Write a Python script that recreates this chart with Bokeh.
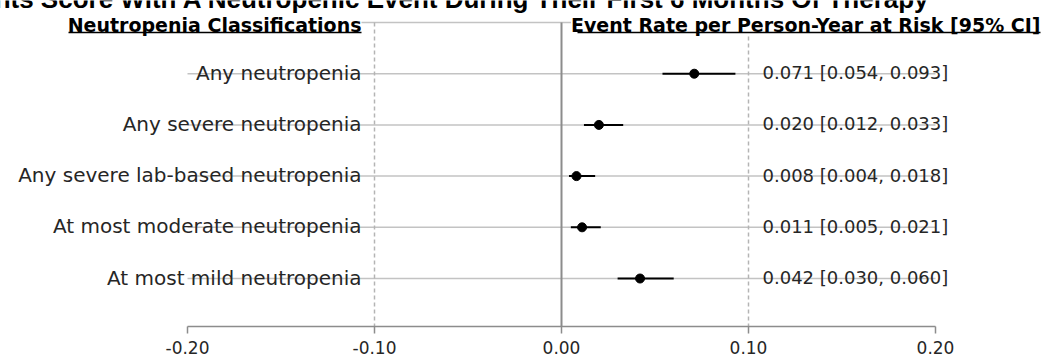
from bokeh.plotting import figure
from bokeh.models import Range1d, FixedTicker, NumeralTickFormatter
from bokeh.core.properties import value
from bokeh.embed import file_html
from bokeh.resources import INLINE

# ---- data ----
categories = [
    "Any neutropenia",
    "Any severe neutropenia",
    "Any severe lab-based neutropenia",
    "At most moderate neutropenia",
    "At most mild neutropenia",
]
estimates = [0.071, 0.020, 0.008, 0.011, 0.042]
lower = [0.054, 0.012, 0.004, 0.005, 0.030]
upper = [0.093, 0.033, 0.018, 0.021, 0.060]
tick_values = [-0.20, -0.10, 0.00, 0.10, 0.20]
header_left = "Neutropenia Classifications"
header_right = "Event Rate per Person-Year at Risk [95% CI]"
title_text = "Event Rates For Patients Score With A Neutropenic Event During Their First 6 Months Of Therapy"

# ---- layout helpers (pixel -> data) ----
W, FH = 1044, 326
X_LEFT, PXU = -0.30, 1870.0
Y_TOP, ROWPX = -0.43, 51.2
X_RIGHT = X_LEFT + W / PXU
Y_BOTTOM = Y_TOP + FH / ROWPX


def px2x(px):
    return X_LEFT + px / PXU


def px2y(py):
    return Y_TOP + py / ROWPX


rows = list(range(1, len(categories) + 1))
all_rows = [0] + rows
right_texts = [f"{e:.3f} [{l:.3f}, {u:.3f}]" for e, l, u in zip(estimates, lower, upper)]

FONT = "DejaVu Sans"

p = figure(
    title=None,
    frame_width=W, frame_height=FH,
    x_range=Range1d(X_LEFT, X_RIGHT), y_range=Range1d(Y_BOTTOM, Y_TOP),
    output_backend="svg", toolbar_location=None, min_border=0,
    y_axis_location=None, outline_line_color=None,
)
p.grid.visible = False

# row lines
p.segment(x0=[tick_values[0]] * len(all_rows), x1=[tick_values[-1]] * len(all_rows),
          y0=all_rows, y1=all_rows, line_color="#c3c3c3", line_width=1.5)

# vertical reference lines
p.segment(x0=[tick_values[1], tick_values[3]], x1=[tick_values[1], tick_values[3]],
          y0=[0, 0], y1=[Y_BOTTOM, Y_BOTTOM], line_color="#b4b4b4", line_width=1.5,
          line_dash="4 3")
p.segment(x0=[tick_values[2]], x1=[tick_values[2]], y0=[0], y1=[Y_BOTTOM],
          line_color="#8c8c8c", line_width=2)

# CIs and points
p.segment(x0=lower, x1=upper, y0=rows, y1=rows, line_color="black", line_width=2)
p.scatter(x=estimates, y=rows, size=9, color="black")

# labels
p.text(x=[px2x(361)] * len(rows), y=rows, text=categories, text_align="right",
       text_baseline="alphabetic", y_offset=-1, text_font=value(FONT),
       text_font_size="20px", text_color="#262626")
p.text(x=[px2x(762)] * len(rows), y=rows, text=right_texts, text_align="left",
       text_baseline="alphabetic", y_offset=-1, text_font=value(FONT),
       text_font_size="18px", text_color="#262626")

# headers
p.text(x=[px2x(361)], y=[0], text=[header_left], text_align="right",
       text_baseline="alphabetic", y_offset=2, text_font=value(FONT),
       text_font_style="bold", text_font_size="19px", text_color="black",
       background_fill_color="white")
p.text(x=[px2x(1040)], y=[0], text=[header_right], text_align="right",
       text_baseline="alphabetic", y_offset=2, text_font=value(FONT),
       text_font_style="bold", text_font_size="19px", text_color="black",
       background_fill_color="white")
# underlines
p.segment(x0=[px2x(68), px2x(577)], x1=[px2x(361), px2x(1040)],
          y0=[px2y(32), px2y(32)], y1=[px2y(32), px2y(32)],
          line_color="black", line_width=1.5)

# title (top clipped as in the original)
p.text(x=[px2x(930)], y=[px2y(-1.5)], text=[title_text], text_align="right",
       text_baseline="alphabetic", text_font=value("Liberation Sans"),
       text_font_style="bold", text_font_size="26px", text_color="black")

# axis
ax = p.xaxis[0]
ax.bounds = (tick_values[0], tick_values[-1])
ax.ticker = FixedTicker(ticks=tick_values)
ax.formatter = NumeralTickFormatter(format="0.00")
ax.axis_line_color = "#8c8c8c"
ax.axis_line_width = 1.5
ax.major_tick_line_color = "#8c8c8c"
ax.major_tick_line_width = 1.5
ax.major_tick_in = 0
ax.major_tick_out = 7
ax.minor_tick_line_color = None
ax.major_label_standoff = 7
ax.major_label_text_font = FONT
ax.major_label_text_font_size = "17px"
ax.major_label_text_color = "#262626"

open("out.html", "w").write(file_html(p, INLINE))
